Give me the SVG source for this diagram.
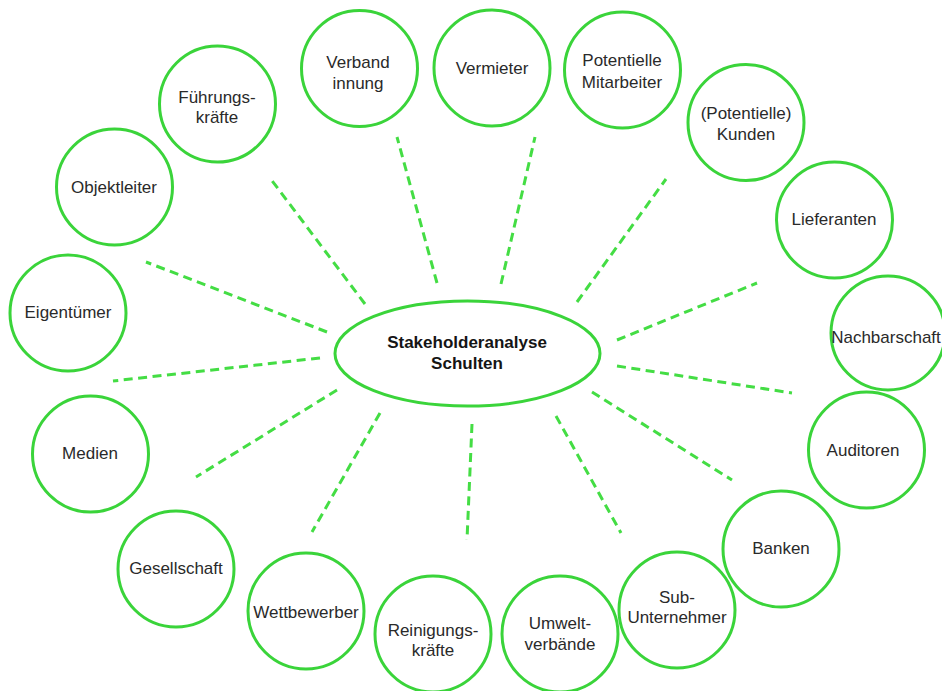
<svg xmlns="http://www.w3.org/2000/svg" width="942" height="691" viewBox="0 0 942 691">
  <style>
    .node circle { fill: #ffffff; stroke: #3ad43a; stroke-width: 3; }
    .hub ellipse { fill: #ffffff; stroke: #3ad43a; stroke-width: 3; }
    .node text { font-family: "Liberation Sans", Arial, sans-serif; font-size: 17px; fill: #2a2a2a; text-anchor: middle; }
    .hub text { font-family: "Liberation Sans", Arial, sans-serif; font-size: 17px; font-weight: bold; fill: #151515; text-anchor: middle; }
    #connectors line { stroke: #44dd44; stroke-width: 3; stroke-dasharray: 9 5.5; fill: none; }
  </style>
  <rect width="942" height="691" fill="#ffffff"/>

  <!-- dashed spokes from the hub -->
  <g id="connectors">
    <line x1="327" y1="332" x2="146" y2="262"/>
    <line x1="365" y1="304" x2="270" y2="178"/>
    <line x1="437" y1="283" x2="397" y2="137"/>
    <line x1="501" y1="284" x2="535" y2="137"/>
    <line x1="577" y1="302" x2="666" y2="179"/>
    <line x1="617" y1="340" x2="757" y2="283"/>
    <line x1="617" y1="366" x2="792" y2="393"/>
    <line x1="592" y1="392" x2="732" y2="480"/>
    <line x1="556" y1="416" x2="621" y2="533"/>
    <line x1="472" y1="424" x2="467" y2="540"/>
    <line x1="380" y1="413" x2="312" y2="532"/>
    <line x1="337" y1="390" x2="196" y2="477"/>
    <line x1="320" y1="358" x2="113" y2="381"/>
  </g>

  <!-- central topic -->
  <g id="hub" class="hub">
    <ellipse cx="467.5" cy="353.5" rx="132.5" ry="52.5"/>
    <text x="467" y="348">Stakeholderanalyse</text>
    <text x="467" y="369">Schulten</text>
  </g>

  <!-- stakeholders, clockwise from the left -->
  <g id="eigentuemer" class="node">
    <circle cx="68" cy="313" r="58"/>
    <text x="68" y="318">Eigentümer</text>
  </g>
  <g id="objektleiter" class="node">
    <circle cx="114.5" cy="187" r="58"/>
    <text x="114" y="193">Objektleiter</text>
  </g>
  <g id="fuehrungskraefte" class="node">
    <circle cx="217.5" cy="104" r="58"/>
    <text x="217" y="103">Führungs-</text>
    <text x="217" y="123">kräfte</text>
  </g>
  <g id="verband" class="node">
    <circle cx="359.5" cy="68.5" r="58"/>
    <text x="358" y="68">Verband</text>
    <text x="358" y="89">innung</text>
  </g>
  <g id="vermieter" class="node">
    <circle cx="492" cy="68" r="58"/>
    <text x="492" y="74">Vermieter</text>
  </g>
  <g id="mitarbeiter" class="node">
    <circle cx="622.5" cy="70" r="58"/>
    <text x="622" y="66">Potentielle</text>
    <text x="622" y="88">Mitarbeiter</text>
  </g>
  <g id="kunden" class="node">
    <circle cx="746" cy="122.5" r="58"/>
    <text x="746" y="119">(Potentielle)</text>
    <text x="746" y="140">Kunden</text>
  </g>
  <g id="lieferanten" class="node">
    <circle cx="834.5" cy="220" r="58"/>
    <text x="834" y="225">Lieferanten</text>
  </g>
  <g id="nachbarschaft" class="node">
    <circle cx="888" cy="333" r="57"/>
    <text x="886" y="343">Nachbarschaft</text>
  </g>
  <g id="auditoren" class="node">
    <circle cx="866.5" cy="450" r="58"/>
    <text x="863" y="456">Auditoren</text>
  </g>
  <g id="banken" class="node">
    <circle cx="781" cy="549" r="58"/>
    <text x="781" y="554">Banken</text>
  </g>
  <g id="subunternehmer" class="node">
    <circle cx="677" cy="610" r="58"/>
    <text x="677" y="603">Sub-</text>
    <text x="677" y="623">Unternehmer</text>
  </g>
  <g id="umweltverbaende" class="node">
    <circle cx="560" cy="634" r="58"/>
    <text x="560" y="629">Umwelt-</text>
    <text x="560" y="650">verbände</text>
  </g>
  <g id="reinigungskraefte" class="node">
    <circle cx="433" cy="634" r="58"/>
    <text x="433" y="636">Reinigungs-</text>
    <text x="433" y="656">kräfte</text>
  </g>
  <g id="wettbewerber" class="node">
    <circle cx="306" cy="611" r="58"/>
    <text x="306" y="618">Wettbewerber</text>
  </g>
  <g id="gesellschaft" class="node">
    <circle cx="176" cy="569" r="58"/>
    <text x="176" y="574">Gesellschaft</text>
  </g>
  <g id="medien" class="node">
    <circle cx="90.5" cy="454" r="58"/>
    <text x="90" y="459">Medien</text>
  </g>
</svg>
